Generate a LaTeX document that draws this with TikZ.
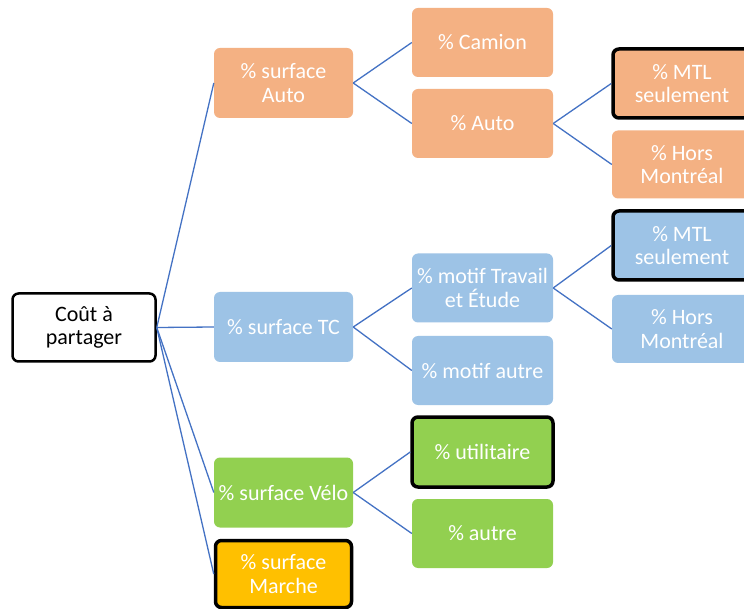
\documentclass[tikz,border=0pt]{standalone}
\usepackage{fontspec}
\setmainfont{Carlito}
\definecolor{cOrange}{HTML}{F4B183}
\definecolor{cBlue}{HTML}{9DC3E6}
\definecolor{cGreen}{HTML}{92D050}
\definecolor{cGold}{HTML}{FFC000}
\definecolor{cLine}{HTML}{4472C4}
\tikzset{
  box/.style={rectangle, rounded corners=6pt, draw=none, text=white, align=center,
    font=\fontsize{22}{23.5}\selectfont, inner sep=1pt},
  l1/.style={box, minimum width=139pt, minimum height=70pt},
  l2/.style={box, minimum width=141pt, minimum height=69pt},
  l3/.style={box, minimum width=140pt, minimum height=68pt},
  bold/.style={draw=black, line width=3.5pt},
  link/.style={draw=cLine, line width=1.3pt},
}
\begin{document}
\begin{tikzpicture}[x=1pt,y=-1pt]
\useasboundingbox (0,0) rectangle (744,609);
\clip (0,0) rectangle (744,609);
\fill[white] (0,0) rectangle (744,609);
% root
\node[box, draw=black, line width=2.5pt, fill=white, text=black, minimum width=143pt, minimum height=68pt] (root) at (84,327.5) {Coût à\\partager};
% level 1
\node[l1, fill=cOrange] (sauto) at (283.5,83) {\% surface\\Auto};
\node[l1, fill=cBlue] (stc) at (283.5,327) {\% surface TC};
\node[l1, fill=cGreen] (svelo) at (283.5,492.5) {\% surface Vélo};
\node[l1, fill=cGold, bold, minimum width=136pt, minimum height=67pt] (smarche) at (283.5,574) {\% surface\\Marche};
% level 2
\node[l2, fill=cOrange] (camion) at (482.5,42.5) {\% Camion};
\node[l2, fill=cOrange] (auto) at (482.5,123.5) {\% Auto};
\node[l2, fill=cBlue] (travail) at (482.5,288) {\% motif Travail\\et Étude};
\node[l2, fill=cBlue] (mautre) at (482.5,370.5) {\% motif autre};
\node[l2, fill=cGreen, bold, minimum width=141pt, minimum height=70pt] (util) at (482.5,452) {\% utilitaire};
\node[l2, fill=cGreen] (autre) at (482.5,533.5) {\% autre};
% level 3
\node[l3, fill=cOrange, bold, minimum width=138pt, minimum height=69pt] (mtla) at (682,83.5) {\% MTL\\seulement};
\node[l3, fill=cOrange] (horsa) at (682,164.5) {\% Hors\\Montréal};
\node[l3, fill=cBlue, bold, minimum width=138pt, minimum height=69pt] (mtlb) at (682,245.5) {\% MTL\\seulement};
\node[l3, fill=cBlue] (horsb) at (682,329) {\% Hors\\Montréal};
% connectors
\foreach \c in {sauto,stc,svelo,smarche}
  \draw[link] (root.east) -- (\c.west);
\draw[link] (sauto.east) -- (camion.west);
\draw[link] (sauto.east) -- (auto.west);
\draw[link] (auto.east) -- (mtla.west);
\draw[link] (auto.east) -- (horsa.west);
\draw[link] (stc.east) -- (travail.west);
\draw[link] (stc.east) -- (mautre.west);
\draw[link] (travail.east) -- (mtlb.west);
\draw[link] (travail.east) -- (horsb.west);
\draw[link] (svelo.east) -- (util.west);
\draw[link] (svelo.east) -- (autre.west);
\end{tikzpicture}
\end{document}
